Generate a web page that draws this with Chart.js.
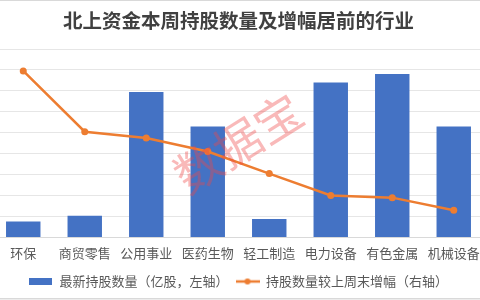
<!DOCTYPE html>
<html>
<head>
<meta charset="utf-8">
<script src="https://cdn.jsdelivr.net/npm/chart.js@4/dist/chart.umd.min.js"></script>
<style>
html,body{margin:0;padding:0;background:#fff;overflow:hidden;width:480px;height:300px;}
#wrap{position:absolute;left:-11px;top:0;width:499px;height:300px;}
</style>
</head>
<body>
<div id="wrap"><canvas id="c" width="499" height="300"></canvas></div>
<script>
const categories = ['环保','商贸零售','公用事业','医药生物','轻工制造','电力设备','有色金属','机械设备'];
const holdings = [15.2, 20.6, 139, 106, 17.5, 148, 156, 106];
const growth = [15.9, 10.1, 9.5, 8.2, 6.1, 4.0, 3.8, 2.6];
const seriesNames = ['最新持股数量（亿股，左轴）', '持股数量较上周末增幅（右轴）'];
const titleText = '北上资金本周持股数量及增幅居前的行业';
const watermark = '数据宝';

const BLUE = '#4472C4', ORANGE = '#ED7D31';
const FONT = '"Noto Sans CJK SC", "Noto Sans", sans-serif';

function makeIcon(w, h, draw){ const c = document.createElement('canvas'); c.width = w; c.height = h; draw(c.getContext('2d')); return c; }
const barIcon = makeIcon(23, 7, g => { g.fillStyle = BLUE; g.fillRect(0,0,23,7); });
const lineIcon = makeIcon(24, 8, g => {
  g.strokeStyle = ORANGE; g.lineWidth = 2.5; g.beginPath(); g.moveTo(0,4); g.lineTo(24,4); g.stroke();
  g.fillStyle = ORANGE; g.beginPath(); g.arc(12,4,3,0,Math.PI*2); g.fill();
});
const icons = [barIcon, lineIcon];

const extras = {
  id: 'extras',
  beforeDraw(chart){
    const g = chart.ctx;
    g.save(); g.fillStyle = '#fff'; g.fillRect(0,0,chart.width,chart.height);
    g.fillStyle = '#d9d9d9'; g.fillRect(0,0,chart.width,1); g.fillRect(0,298,chart.width,1.5);
    g.restore();
  },
  afterDraw(chart){
    const g = chart.ctx;
    g.save();
    g.translate(249, 143);
    g.rotate(-32 * Math.PI / 180);
    g.font = '47px ' + FONT;
    g.fillStyle = 'rgba(240,70,70,0.38)';
    g.textAlign = 'center'; g.textBaseline = 'middle';
    g.fillText(watermark, 0, 0);
    g.restore();
  }
};

new Chart(document.getElementById('c'), {
  data: {
    labels: categories,
    datasets: [
      { type: 'bar', label: seriesNames[0], data: holdings, backgroundColor: BLUE, yAxisID: 'y',
        barPercentage: 0.56, categoryPercentage: 1, order: 2 },
      { type: 'line', label: seriesNames[1], data: growth, borderColor: ORANGE, backgroundColor: ORANGE,
        borderWidth: 2.5, pointRadius: 3.5, pointHoverRadius: 3.5, pointBackgroundColor: ORANGE, pointBorderWidth: 0,
        tension: 0, yAxisID: 'y1', order: 1 }
    ]
  },
  options: {
    responsive: false, animation: false,
    layout: { padding: { bottom: 2 } },
    plugins: {
      title: { display: true, text: titleText, color: '#404040',
        font: { family: FONT, size: 19.5, weight: 'bold' }, padding: { top: 9.3, bottom: 16.3 } },
      legend: { position: 'bottom',
        labels: { usePointStyle: true, pointStyleWidth: 24, boxHeight: 13, padding: 7, color: '#595959',
          font: { family: FONT, size: 13 },
          sort: (a, b) => a.datasetIndex - b.datasetIndex,
          generateLabels(chart){
            const items = Chart.defaults.plugins.legend.labels.generateLabels(chart);
            items.forEach(it => { it.pointStyle = icons[it.datasetIndex]; });
            return items;
          } } },
      tooltip: { enabled: false }
    },
    scales: {
      x: { offset: true, grid: { display: false, drawTicks: false }, border: { display: true, color: '#d9d9d9' },
        ticks: { color: '#595959', font: { family: FONT, size: 13 }, padding: 8, maxRotation: 0, autoSkip: false },
        afterFit(s){ s.height -= 1; } },
      y: { position: 'left', min: 0, max: 180, grid: { color: '#e6e6e6', drawTicks: false }, border: { display: false },
        ticks: { display: false, stepSize: 20 } },
      y1: { position: 'right', min: 0, max: 18, grid: { display: false, drawTicks: false }, border: { display: false },
        ticks: { display: false, stepSize: 2 } }
    }
  },
  plugins: [extras]
});
</script>
</body>
</html>
